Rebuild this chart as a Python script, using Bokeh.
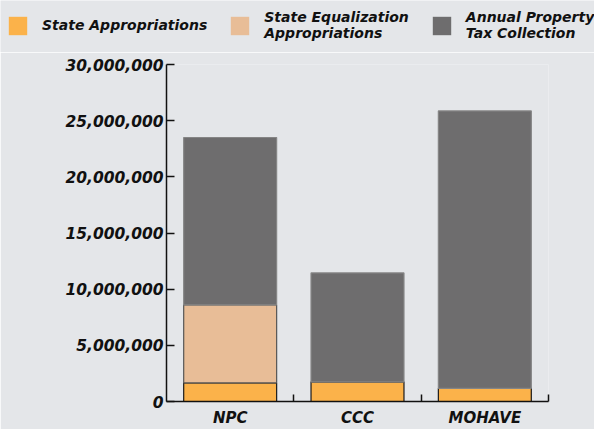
from bokeh.plotting import figure
from bokeh.layouts import column
from bokeh.models import Range1d, FixedTicker, NumeralTickFormatter, Legend, LegendItem, ColumnDataSource
from bokeh.embed import file_html
from bokeh.resources import INLINE

categories = ["NPC", "CCC", "MOHAVE"]
series_keys = ["state_app", "state_eq", "property_tax"]
series_labels = ["State Appropriations", "State Equalization\nAppropriations", "Annual Property\nTax Collection"]
state_appropriations = [1650000, 1750000, 1170000]
state_equalization = [6950000, 0, 0]
property_tax = [14900000, 9700000, 24700000]
y_ticks = [0, 5000000, 10000000, 15000000, 20000000, 25000000, 30000000]

colors = ["#FBB24A", "#E8BD97", "#6E6D6E"]
outline = ["#1a1a1a", "#555555", "#858585"]

FONT = "DejaVu Sans"
BG = "#E4E6E9"

x_pos = [i + 0.5 for i in range(len(categories))]
boundaries = [i + 1 for i in range(len(categories))]

source = ColumnDataSource(dict(x=x_pos, state_app=state_appropriations,
                               state_eq=state_equalization, property_tax=property_tax))

# ---- legend strip (hidden proxy renderers; only the legend shows) ----
lf = figure(width=594, height=52, output_backend="svg", toolbar_location=None,
            x_axis_location=None, y_axis_location=None,
            x_range=Range1d(0, len(categories)), y_range=Range1d(0, 30000000),
            min_border_left=0, min_border_right=0, min_border_top=0, min_border_bottom=0,
            background_fill_color=BG, border_fill_color=BG, outline_line_color=None)
lf.frame_align = False
lf.xgrid.visible = False
lf.ygrid.visible = False
proxies = lf.vbar_stack(series_keys, x="x", width=0.73, source=source,
                        fill_color=colors, line_alpha=0)
for r in proxies:
    r.visible = False
legend = Legend(items=[LegendItem(label=lbl, renderers=[r]) for lbl, r in zip(series_labels, proxies)],
                orientation="horizontal", location=(6, 11),
                glyph_width=23, glyph_height=23, label_standoff=13, spacing=21,
                padding=0, margin=0, background_fill_alpha=0, border_line_alpha=0,
                inactive_fill_alpha=0,
                label_text_font=FONT, label_text_font_style="bold italic",
                label_text_font_size="14px", label_text_color="#111111",
                label_text_line_height=1.0, label_height=23)
lf.add_layout(legend)

# ---- chart ----
p = figure(width=594, height=377, output_backend="svg", toolbar_location=None,
           x_range=Range1d(0, len(categories)), y_range=Range1d(0, 30000000),
           min_border_left=166, min_border_right=46, min_border_top=12, min_border_bottom=23,
           background_fill_color=BG, border_fill_color=BG, outline_line_color=None)
p.frame_align = False

p.vbar_stack(series_keys, x="x", width=0.73, source=source,
             fill_color=colors, line_color=outline, line_width=1.2)

p.xgrid.visible = False
p.ygrid.visible = False

xa = p.xaxis[0]
xa.ticker = FixedTicker(ticks=x_pos, minor_ticks=boundaries)
xa.major_label_overrides = {x: c for x, c in zip(x_pos, categories)}
xa.major_tick_in = 0
xa.major_tick_out = 0
xa.minor_tick_in = 7
xa.minor_tick_out = 0
xa.minor_tick_line_color = "#111111"
xa.minor_tick_line_width = 1.5
xa.axis_line_color = "#111111"
xa.axis_line_width = 1.5
xa.major_label_standoff = 7
xa.major_label_text_font = FONT
xa.major_label_text_font_style = "bold italic"
xa.major_label_text_font_size = "15px"
xa.major_label_text_color = "#111111"

ya = p.yaxis[0]
ya.ticker = FixedTicker(ticks=y_ticks)
ya.formatter = NumeralTickFormatter(format="0,0")
ya.major_tick_in = 8
ya.major_tick_out = 0
ya.minor_tick_line_color = None
ya.major_tick_line_color = "#111111"
ya.major_tick_line_width = 1.5
ya.axis_line_color = "#111111"
ya.axis_line_width = 1.5
ya.major_label_standoff = 3
ya.major_label_text_font = FONT
ya.major_label_text_font_style = "bold italic"
ya.major_label_text_font_size = "15.5px"
ya.major_label_text_color = "#111111"

layout = column(lf, p, spacing=0)
open("out.html", "w").write(file_html(layout, INLINE))
